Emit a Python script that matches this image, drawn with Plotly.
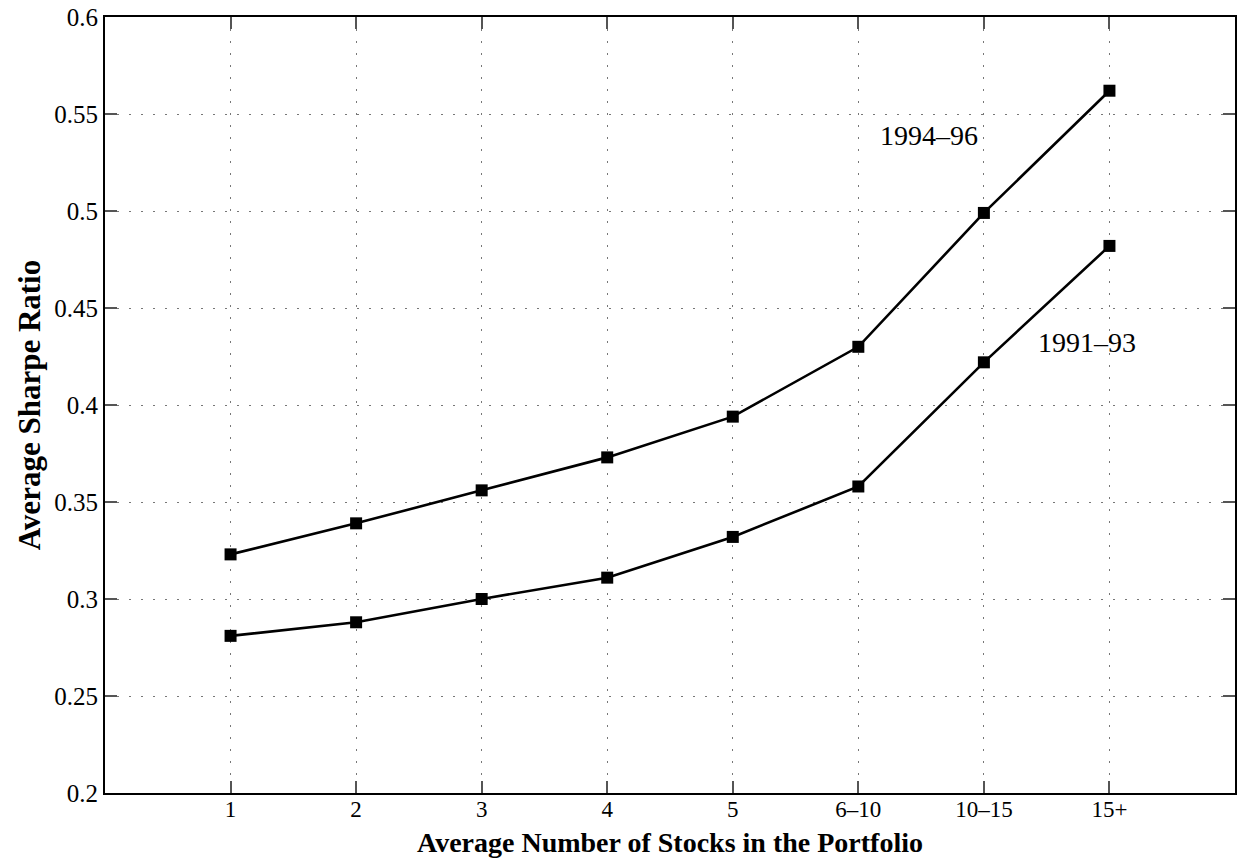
import plotly.graph_objects as go

categories = ["1", "2", "3", "4", "5", "6–10", "10–15", "15+"]
sharpe_1994_96 = [0.323, 0.339, 0.356, 0.373, 0.394, 0.430, 0.499, 0.562]
sharpe_1991_93 = [0.281, 0.288, 0.300, 0.311, 0.332, 0.358, 0.422, 0.482]
y_ticks = [0.2, 0.25, 0.3, 0.35, 0.4, 0.45, 0.5, 0.55, 0.6]
y_tick_text = ["0.2", "0.25", "0.3", "0.35", "0.4", "0.45", "0.5", "0.55", "0.6"]

FONT = "Liberation Serif"

fig = go.Figure()
for name, values in [("1994–96", sharpe_1994_96), ("1991–93", sharpe_1991_93)]:
    fig.add_trace(
        go.Scatter(
            x=categories,
            y=values,
            name=name,
            mode="lines+markers",
            line=dict(color="black", width=2.6),
            marker=dict(symbol="square", size=12, color="black"),
            showlegend=False,
        )
    )

# series labels placed next to the lines
fig.add_annotation(x=5.56, y=0.539, text="1994–96", showarrow=False,
                   font=dict(family=FONT, size=28, color="black"))
fig.add_annotation(x=6.825, y=0.432, text="1991–93", showarrow=False,
                   font=dict(family=FONT, size=28, color="black"))
# x axis title as an annotation so it sits tight under the tick labels
fig.add_annotation(x=0.5, y=-0.064, xref="paper", yref="paper",
                   text="<b>Average Number of Stocks in the Portfolio</b>",
                   showarrow=False, yanchor="middle",
                   font=dict(family=FONT, size=28, color="black"))

axis_common = dict(
    showline=True,
    linecolor="black",
    linewidth=2,
    mirror="allticks",
    ticks="inside",
    ticklen=12,
    tickwidth=1.5,
    tickcolor="#555555",
    showgrid=True,
    gridcolor="#777777",
    griddash="2px,10px",
    gridwidth=1,
    zeroline=False,
    tickfont=dict(family=FONT, size=25, color="black"),
)

fig.update_xaxes(
    **axis_common,
    type="category",
    categoryorder="array",
    categoryarray=categories,
    range=[-1, 8],
)
fig.update_xaxes(tickfont=dict(size=23), ticklabelstandoff=-6)
fig.update_yaxes(
    **axis_common,
    range=[0.2, 0.6],
    tickvals=y_ticks,
    ticktext=y_tick_text,
    title=dict(text="<b>Average Sharpe Ratio</b>",
               font=dict(family=FONT, size=31, color="black"), standoff=4),
)

fig.update_layout(
    width=1238,
    height=860,
    plot_bgcolor="white",
    paper_bgcolor="white",
    margin=dict(l=105, r=1, t=17, b=67),
)

fig.write_html("out.html", config={"displayModeBar": False},
               post_script="document.body.style.margin='0px';")
